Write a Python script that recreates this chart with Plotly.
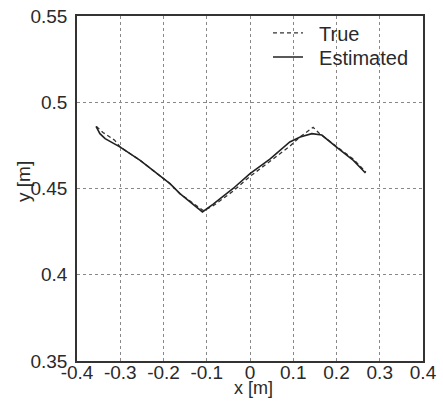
import plotly.graph_objects as go

# Estimated trajectory
est_x = [-0.356, -0.347, -0.335, -0.300, -0.254, -0.185, -0.162, -0.110, -0.085, -0.039, 0.000, 0.046, 0.092, 0.116, 0.143, 0.166, 0.200, 0.239, 0.267]
est_y = [0.486, 0.4818, 0.4789, 0.474, 0.4663, 0.4528, 0.447, 0.4364, 0.441, 0.450, 0.4586, 0.467, 0.477, 0.4799, 0.4818, 0.481, 0.474, 0.4663, 0.459]

# True trajectory
true_x = [-0.355, -0.340, -0.313, -0.300, -0.254, -0.185, -0.162, -0.108, -0.085, -0.039, 0.000, 0.046, 0.092, 0.116, 0.146, 0.160, 0.200, 0.239, 0.268]
true_y = [0.486, 0.4825, 0.478, 0.474, 0.4663, 0.4528, 0.447, 0.4372, 0.4400, 0.4485, 0.4570, 0.4655, 0.4745, 0.480, 0.4855, 0.482, 0.4745, 0.4670, 0.4595]

x_ticks = [-0.4, -0.3, -0.2, -0.1, 0, 0.1, 0.2, 0.3, 0.4]
x_ticklabels = ["-0.4", "-0.3", "-0.2", "-0.1", "0", "0.1", "0.2", "0.3", "0.4"]
y_ticks = [0.35, 0.4, 0.45, 0.5, 0.55]
y_ticklabels = ["0.35", "0.4", "0.45", "0.5", "0.55"]

font = dict(family="Liberation Sans, Arial, sans-serif", size=19, color="#2a2a2a")
xtitle_font = dict(family="Liberation Sans, Arial, sans-serif", size=18, color="#2a2a2a")
legend_font = dict(family="Liberation Sans, Arial, sans-serif", size=20, color="#2a2a2a")

fig = go.Figure()
fig.add_trace(go.Scatter(x=true_x, y=true_y, mode="lines", name="\u00a0\u00a0True",
                         legend="legend",
                         line=dict(color="#333", width=1.3, dash="4px,3px")))
fig.add_trace(go.Scatter(x=est_x, y=est_y, mode="lines", name="\u00a0\u00a0Estimated",
                         legend="legend2",
                         line=dict(color="#222", width=1.6)))

axis_common = dict(showline=True, linecolor="#333", linewidth=1.5, mirror=True,
                   showgrid=True, gridcolor="#888", griddash="dot", gridwidth=1,
                   zeroline=False, ticks="", tickfont=font, automargin=False,
                   ticklabeloverflow="allow")

fig.update_xaxes(range=[-0.4, 0.4], tickvals=x_ticks, ticktext=x_ticklabels,
                 ticklabelstandoff=-7, **axis_common)
fig.update_yaxes(range=[0.35, 0.55], tickvals=y_ticks, ticktext=y_ticklabels,
                 ticklabelstandoff=4, **axis_common)

leg_common = dict(xanchor="left", yanchor="middle", bgcolor="rgba(0,0,0,0)",
                  borderwidth=0, font=legend_font, itemwidth=30)

fig.update_layout(
    width=443, height=401,
    margin=dict(l=77, r=20, t=16, b=40),
    paper_bgcolor="white", plot_bgcolor="white",
    font=font,
    showlegend=True,
    legend=dict(x=0.552, y=0.951, **leg_common),
    legend2=dict(x=0.552, y=0.881, **leg_common),
    annotations=[
        dict(text="x [m]", xref="paper", yref="paper", x=0.51, y=-0.079,
             xanchor="center", yanchor="middle", showarrow=False, font=xtitle_font),
        dict(text="y [m]", xref="paper", yref="paper", x=-0.155, y=0.52,
             xanchor="center", yanchor="middle", showarrow=False, textangle=-90, font=font),
    ],
)

fig.write_html("out.html", config={"displayModeBar": False},
               post_script="document.body.style.margin='0px';")
